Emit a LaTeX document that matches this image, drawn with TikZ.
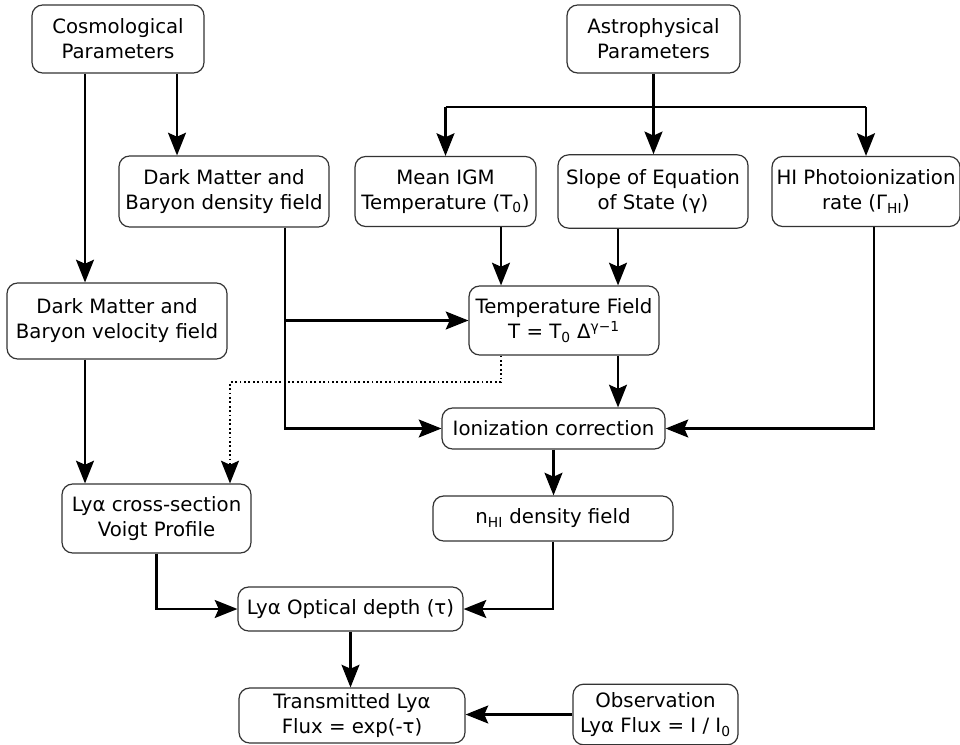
\documentclass[tikz,border=0pt]{standalone}
\usepackage{fontspec}
\setmainfont{DejaVu Sans}
\usetikzlibrary{arrows.meta}
\begin{document}
\begin{tikzpicture}[x=0.75pt,y=-0.75pt,
  box/.style={draw=black!80, line width=0.9pt, rounded corners=8pt, align=center,
    inner sep=2pt, font=\fontsize{14.8}{18.75}\selectfont, fill=white},
  arr/.style={line width=1.6pt, -{Stealth[length=17pt,width=13.5pt,inset=3pt]}},
  ln/.style={line width=1.6pt},
  dot/.style={line width=1.3pt, dotted, -{Stealth[length=17pt,width=13.5pt,inset=3pt,sep=0pt]}}]
\useasboundingbox (0,0) rectangle (960,745);

\node[box, minimum width=129pt, minimum height=51pt] (cosmo) at (118,39) {Cosmological\\Parameters};
\node[box, minimum width=129.75pt, minimum height=51pt] (astro) at (653.5,39) {Astrophysical\\Parameters};
\node[box, minimum width=157.5pt, minimum height=53.25pt] (dens) at (224,191.5) {Dark Matter and\\Baryon density field};
\node[box, minimum width=135.75pt, minimum height=52.5pt] (meanT) at (445.5,191.5) {Mean IGM\\Temperature (T\textsubscript{0})};
\node[box, minimum width=142.5pt, minimum height=55pt] (slope) at (653,191.5) {Slope of Equation\\of State (γ)};
\node[box, minimum width=141pt, minimum height=52.5pt] (hi) at (866,191.5) {HI Photoionization\\rate (Γ\textsubscript{HI})};
\node[box, minimum width=165pt, minimum height=57pt] (vel) at (117,321) {Dark Matter and\\Baryon velocity field};
\node[box, minimum width=142.5pt, minimum height=51.75pt] (temp) at (564,320.5) {Temperature Field\\T = T\textsubscript{0} Δ\textsuperscript{γ−1}};
\node[box, minimum width=167.25pt, minimum height=30.75pt] (ion) at (553.5,428.5) {Ionization correction};
\node[box, minimum width=141.75pt, minimum height=51.75pt] (voigt) at (156.5,518.5) {Lyα cross-section\\Voigt Profile};
\node[box, minimum width=180pt, minimum height=33.75pt] (nhi) at (553,518.5) {n\textsubscript{HI} density field};
\node[box, minimum width=168.75pt, minimum height=33pt] (tau) at (350.5,609) {Lyα Optical depth (τ)};
\node[box, minimum width=169.5pt, minimum height=41.25pt] (trans) at (352,715.5) {Transmitted Lyα\\Flux = exp(-τ)};
\node[box, minimum width=123.75pt, minimum height=45.5pt] (obs) at (655.5,714.5) {Observation\\Lyα Flux = I / I\textsubscript{0}};

\coordinate (xa) at (85,0);
\coordinate (xb) at (177,0);
\coordinate (xc) at (285,0);
\coordinate (xd) at (501,0);
\coordinate (xe) at (618,0);
\coordinate (xf) at (874,0);
\coordinate (xg) at (230,0);
\coordinate (yb) at (0,107);
\coordinate (yd) at (0,382);

% cosmological
\draw[arr] (cosmo.south -| xb) -- (dens.north -| xb);
\draw[arr] (cosmo.south -| xa) -- (vel.north -| xa);
\draw[arr] (vel.south -| xa) -- (voigt.north -| xa);

% astrophysical bus
\draw[ln] (astro.south) -- (astro.south |- yb);
\draw[ln] (meanT.north |- yb) -- (hi.north |- yb);
\draw[arr] (meanT.north |- yb) -- (meanT.north);
\draw[arr] (astro.south |- yb) -- (astro.south |- slope.north);
\draw[arr] (hi.north |- yb) -- (hi.north);

% density field
\draw[arr] (dens.south -| xc) |- (ion.west);
\draw[arr] (temp.west -| xc) -- (temp.west);

% temperature
\draw[arr] (meanT.south -| xd) -- (temp.north -| xd);
\draw[arr] (slope.south -| xe) -- (temp.north -| xe);
\draw[arr] (temp.south -| xe) -- (ion.north -| xe);
\draw[dot] (temp.south -| xd) -- (xd |- yd) -- (xg |- yd) -- (voigt.north -| xg);

% photoionization
\draw[arr] (hi.south -| xf) |- (ion.east);

% lower part
\draw[arr] (ion.south) -- (ion.south |- nhi.north);
\draw[arr] (voigt.south) |- (tau.west);
\draw[arr] (nhi.south) |- (tau.east);
\draw[arr] (tau.south) -- (tau.south |- trans.north);
\draw[arr] (obs.west) -- (obs.west -| trans.east);
\end{tikzpicture}
\end{document}
